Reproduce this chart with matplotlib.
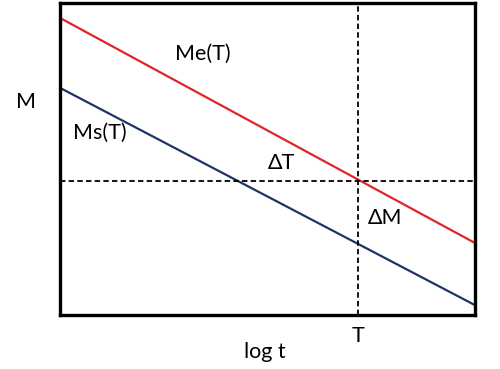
import matplotlib.pyplot as plt

plt.rcParams['font.family'] = ['Lato', 'DejaVu Sans']

# schematic: M vs log t, two straight lines
logt = [0.0, 10.0]
me = [9.52, 2.31]   # Me(T)
ms = [7.28, 0.32]   # Ms(T)
t_pos = 7.18        # vertical dashed line at T
m_level = 4.29      # horizontal dashed line

fig = plt.figure(figsize=(5, 3.69), dpi=100)
ax = fig.add_axes([0.12, 0.146, 0.83, 0.846])

ax.plot(logt, me, color='#e0252a', lw=1.6)
ax.plot(logt, ms, color='#1f3466', lw=1.6)
ax.axhline(m_level, color='black', lw=1.3, ls=(0, (3, 1.8)))
ax.axvline(t_pos, color='black', lw=1.3, ls=(0, (3, 1.8)))

ax.set_xlim(0, 10)
ax.set_ylim(0, 10)
ax.set_xticks([])
ax.set_yticks([])
for s in ax.spines.values():
    s.set_linewidth(2.4)

fs = 15.5
ax.text(3.43, 8.36, 'Me(T)', fontsize=fs, ha='center', va='center')
ax.text(0.96, 5.83, 'Ms(T)', fontsize=fs, ha='center', va='center')
ax.text(5.33, 4.87, 'ΔT', fontsize=fs, ha='center', va='center')
ax.text(7.83, 3.11, 'ΔM', fontsize=fs, ha='center', va='center')

fig.text(26 / 500, 1 - 102 / 369, 'M', fontsize=fs, ha='center', va='center')
fig.text(358 / 500, 1 - 336 / 369, 'T', fontsize=fs, ha='center', va='center')
fig.text(265 / 500, 1 - 352 / 369, 'log t', fontsize=fs, ha='center', va='center')

fig.savefig('out.png', dpi=100)
